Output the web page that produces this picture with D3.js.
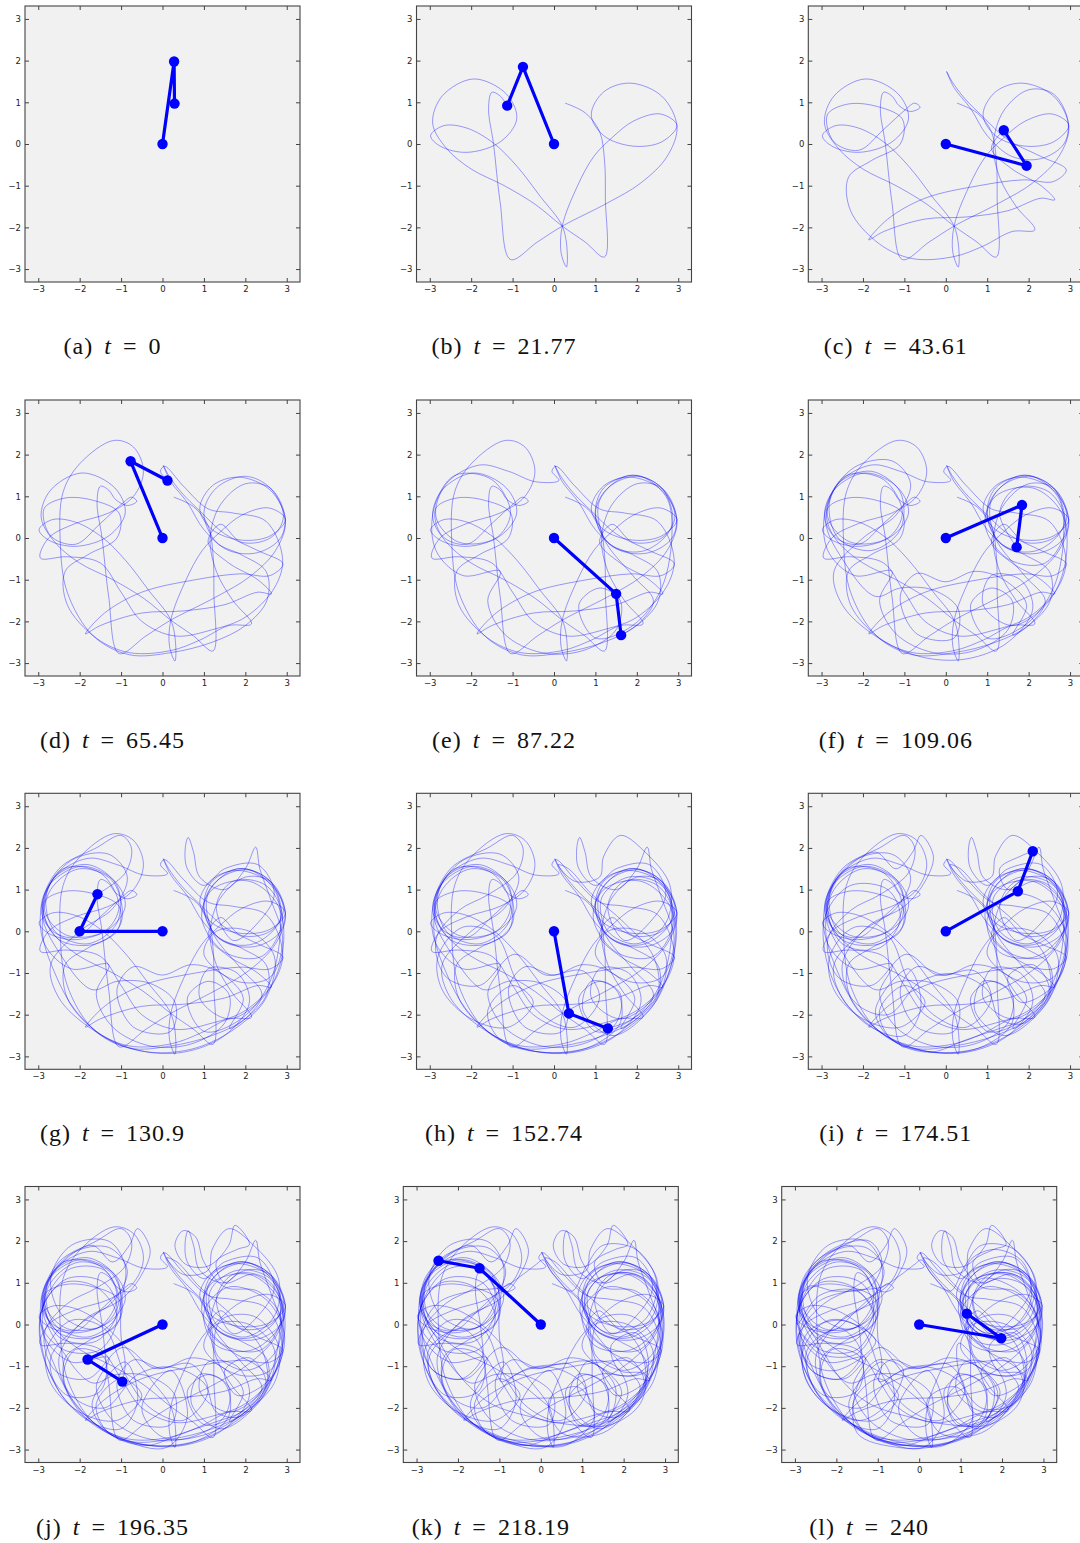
<!DOCTYPE html>
<meta charset="utf-8">
<style>
body { margin: 0; background: #fff; }
svg { display: block; }
.axis text { font-size: 8.5px; font-family: "DejaVu Sans", sans-serif; fill: #222; }
.axis line { stroke: #444; }
.caption { font-family: "Liberation Serif", serif; font-size: 24px; fill: #111; letter-spacing: 1px; word-spacing: 4px; }
</style>
<body>
<script src="https://d3js.org/d3.v7.min.js"></script>
<script>

// panel captions
var panelLabels = ["a", "b", "c", "d", "e", "f", "g", "h", "i", "j", "k", "l"];
var panelTimes = ["0", "21.77", "43.61", "65.45", "87.22", "109.06", "130.9", "152.74", "174.51", "196.35", "218.19", "240"];

// pendulum bobs (pivot is at 0,0)
var bob1 = [[0.28, 1.98], [-0.75, 1.85], [1.95, -0.52], [-0.77, 1.84], [1.5, -1.34], [1.84, 0.79],
            [-2.0, 0.0], [0.36, -1.97], [1.74, 0.96], [-1.81, -0.84], [-1.48, 1.35], [1.98, -0.33]];
var bob2 = [[0.29, 0.97], [-1.13, 0.92], [1.4, 0.33], [0.12, 1.38], [1.62, -2.33], [1.71, -0.22],
            [-1.57, 0.89], [1.3, -2.33], [2.1, 1.92], [-0.97, -1.37], [-2.47, 1.53], [1.15, 0.26]];

// trace of the lower bob, the part added between one panel and the next
var seg_b = [[0.27,0.98],[0.75,0.75],[1.1,0.3],[1.22,-0.4],[1.24,-1.3],[1.22,-2.71],
  [0.75,-2.35],[0.2,-1.97],[-0.45,-1.45],[-1.2,-1.0],[-2.0,-0.6],[-2.6,-0.1],[-2.93,0.5],[-2.7,1.15],
  [-1.94,1.56],[-1.15,1.2],[-0.9,0.6],[-1.3,0.05],[-2.1,-0.2],[-2.75,-0.05],[-2.98,0.2],[-2.66,0.44],
  [-2.1,0.38],[-1.46,0.02],[-0.89,-0.54],[-0.33,-1.26],[0.2,-1.97],[0.32,-2.6],[0.3,-2.95],[0.17,-2.6],
  [0.2,-1.97],[0.56,-1.02],[0.96,-0.3],[1.4,0.15],[1.92,0.55],[2.57,0.72],[2.97,0.45],[2.6,0.05],
  [1.9,-0.05],[1.2,0.2],[0.9,0.7],[1.2,1.25],[1.84,1.46],[2.6,1.15],[2.97,0.42],[2.73,-0.3],[2.09,-0.94],
  [1.28,-1.42],[0.2,-1.97],[-0.4,-2.35],[-1.05,-2.77],[-1.3,-1.4],[-1.46,0.0],[-1.58,0.85],[-1.5,1.24],
  [-1.3,1.15],[-1.13,0.92]];
var seg_c = [[-0.85,0.78],[-0.62,0.88],[-0.75,0.98],[-0.98,0.82],[-1.5,0.35],[-2.1,-0.15],[-2.7,0.05],
  [-2.86,0.7],[-2.4,0.95],[-1.74,0.92],[-1.05,0.6],[-1.1,0.0],[-1.8,-0.4],[-2.35,-0.8],[-2.3,-1.6],
  [-1.6,-2.4],[-0.8,-2.75],[0.2,-2.7],[0.9,-2.45],[1.6,-2.1],[2.15,-2.06],[1.7,-1.5],[1.3,-0.8],
  [1.15,0.0],[1.4,0.8],[2.0,1.3],[2.6,1.2],[2.95,0.55],[2.85,0.0],[2.3,-0.35],[1.6,-0.3],[1.0,0.2],
  [0.6,0.85],[0.2,1.35],[0.02,1.74],[0.15,1.5],[0.45,1.1],[0.9,0.65],[1.5,0.1],[2.3,-0.3],[2.91,-0.62],
  [2.6,-0.9],[1.87,-0.86],[0.8,-1.0],[-0.5,-1.3],[-1.4,-1.8],[-1.86,-2.3],[-1.5,-2.1],[-0.5,-1.8],
  [0.5,-1.75],[1.5,-1.6],[2.3,-1.3],[2.63,-1.34],[2.3,-1.0],[1.6,-0.6],[1.1,-0.1],[1.4,0.33]];
var seg_d = [[1.9,-0.1],[2.6,0.0],[2.92,0.5],[2.6,1.2],[2.0,1.48],[1.3,1.2],[1.0,0.6],[1.3,-0.1],
  [1.9,-0.4],[2.5,-0.8],[2.52,-1.5],[2.0,-2.1],[1.2,-2.5],[0.2,-2.75],[-0.8,-2.8],[-1.67,-2.35],
  [-2.3,-1.3],[-2.47,-0.06],[-2.4,1.1],[-2.0,1.78],[-1.18,2.34],[-0.7,2.18],[-0.46,1.6],[-0.7,1.0],
  [-1.3,0.6],[-2.1,0.35],[-2.75,0.0],[-2.95,-0.48],[-2.3,-0.45],[-1.5,-0.6],[-1.0,-1.3],[-0.5,-2.0],
  [0.3,-2.35],[1.2,-2.2],[2.0,-1.9],[2.7,-1.2],[2.9,-0.5],[2.5,0.4],[1.7,0.6],[1.1,0.7],[0.5,1.25],
  [0.05,1.72],[-0.05,1.6],[0.12,1.38]];
var seg_e = [[-0.45,1.35],[-1.1,1.6],[-1.8,1.75],[-2.6,1.3],[-2.85,0.5],[-2.3,-0.1],[-1.4,0.0],
  [-1.05,0.6],[-1.5,1.4],[-2.4,1.5],[-2.9,0.7],[-2.85,-0.3],[-2.2,-0.9],[-1.3,-0.8],[-1.6,-1.5],
  [-1.2,-2.3],[-0.3,-2.75],[0.7,-2.7],[1.5,-2.2],[1.6,-1.5],[1.1,-1.2],[0.6,-1.6],[1.0,-2.4],[1.9,-2.1],
  [2.6,-1.2],[2.85,0.2],[2.7,1.0],[2.0,1.5],[1.2,1.2],[1.0,0.5],[1.4,-0.2],[2.2,-0.3],[2.85,0.3],
  [2.6,1.2],[1.8,1.5],[1.1,0.9],[1.2,0.0],[1.9,-0.9],[2.4,-1.5],[2.1,-2.0],[1.62,-2.33]];
var seg_f = [[1.95,-1.6],[1.4,-1.0],[0.7,-0.8],[0.0,-1.05],[-0.7,-0.85],[-1.1,-1.4],[-0.7,-2.3],
  [0.2,-2.4],[0.3,-1.7],[-0.3,-1.25],[-1.1,-1.2],[-1.7,-1.4],[-2.5,-0.5],[-2.9,0.4],[-2.6,1.3],
  [-1.8,1.6],[-1.1,1.1],[-1.1,0.2],[-1.8,-0.3],[-2.6,0.0],[-2.8,0.9],[-2.2,1.7],[-1.3,1.85],[-0.85,1.3],
  [-1.2,0.55],[-2.0,0.0],[-2.7,-0.8],[-2.5,-1.6],[-1.7,-2.35],[-0.6,-2.85],[0.5,-2.9],[1.5,-2.5],
  [2.1,-1.7],[1.8,-1.0],[1.1,-0.9],[0.9,-1.6],[1.6,-2.1],[2.5,-1.5],[2.9,-0.5],[2.8,0.6],[2.1,1.2],
  [1.2,1.0],[0.95,0.3],[1.5,-0.5],[2.4,-0.6],[2.9,0.3],[2.5,1.1],[1.7,1.2],[1.3,0.6],[1.71,-0.22]];
var seg_g = [[2.3,0.2],[2.7,0.9],[2.3,1.6],[1.5,1.5],[1.0,1.1],[0.6,1.5],[0.55,2.0],[0.62,2.25],
  [0.75,1.9],[0.9,1.3],[1.5,1.0],[2.0,1.5],[2.25,2.02],[2.35,1.5],[2.6,0.8],[2.9,-0.2],[2.6,-1.1],
  [1.8,-1.2],[1.0,-0.55],[1.3,0.0],[2.1,0.0],[2.7,-0.6],[2.5,-1.6],[1.8,-2.3],[0.8,-2.8],[-0.3,-2.9],
  [-1.3,-2.6],[-2.1,-1.9],[-2.6,-1.0],[-2.9,0.0],[-2.7,1.0],[-2.0,1.5],[-1.2,1.2],[-1.0,0.2],
  [-1.6,-0.3],[-2.5,-0.2],[-2.9,0.6],[-2.5,1.5],[-1.6,2.0],[-1.0,2.3],[-0.75,2.0],[-0.9,1.4],[-1.57,0.89]];
var seg_h = [[-2.3,0.5],[-2.85,-0.2],[-2.6,-1.1],[-1.8,-1.3],[-0.95,-0.55],[-0.2,-1.05],[0.7,-0.95],
  [1.1,-1.6],[0.5,-2.3],[-0.3,-2.0],[-0.9,-1.2],[-1.4,-0.1],[-2.2,0.1],[-2.8,-0.6],[-2.7,-1.4],
  [-2.0,-2.1],[-1.1,-2.3],[-0.5,-1.7],[-1.0,-1.3],[-1.6,-1.9],[-1.3,-2.6],[-0.3,-2.9],[0.8,-2.8],
  [1.6,-2.2],[1.5,-1.4],[0.9,-1.2],[0.7,-1.9],[1.4,-2.5],[2.3,-1.9],[2.8,-0.9],[2.95,0.2],[2.6,1.1],
  [1.8,1.3],[1.15,0.8],[1.3,0.0],[2.0,-0.3],[2.7,0.2],[2.8,1.1],[2.2,1.9],[1.6,2.3],[1.2,1.8],[1.1,1.3],
  [0.5,1.2],[0.1,1.6],[0.35,1.5],[0.9,0.9],[1.7,0.2],[2.4,-0.6],[2.5,-1.5],[1.9,-2.1],[1.3,-2.33]];
var seg_i = [[0.5,-2.6],[-0.4,-2.9],[-1.3,-2.6],[-1.7,-1.9],[-0.9,-0.9],[-0.6,-1.8],[-1.0,-2.5],
  [-1.8,-2.3],[-2.5,-1.6],[-2.9,-0.6],[-2.9,0.4],[-2.3,1.1],[-1.4,1.0],[-1.1,0.3],[-1.6,-0.4],
  [-2.5,-0.3],[-2.85,0.6],[-2.5,1.4],[-1.7,1.9],[-1.2,1.5],[-0.8,1.9],[-0.6,2.3],[-0.3,1.8],[-0.5,1.2],
  [-1.0,0.6],[-1.9,0.1],[-2.5,-0.8],[-2.2,-1.7],[-1.4,-2.0],[-0.6,-1.2],[0.2,-1.02],[1.0,-1.4],
  [1.3,-2.1],[1.9,-2.2],[2.5,-1.4],[2.1,-0.8],[1.5,-1.1],[1.8,-1.7],[2.6,-1.3],[2.95,-0.3],[2.5,0.6],
  [1.6,0.9],[1.0,0.3],[1.3,-0.5],[2.2,-0.6],[2.9,0.1],[2.8,0.7],[2.2,1.2],[1.5,1.0],[1.3,1.5],
  [1.8,1.8],[2.1,1.92]];
var seg_j = [[1.75,2.38],[1.6,1.9],[1.1,1.4],[0.55,1.45],[0.3,1.9],[0.5,2.25],[0.8,2.1],[1.0,1.5],
  [1.5,0.9],[2.3,0.8],[2.85,0.2],[2.7,-0.7],[2.0,-1.1],[1.3,-0.7],[1.4,0.1],[2.2,0.2],[2.8,-0.5],
  [2.7,-1.4],[2.0,-2.1],[1.0,-2.65],[0.0,-2.7],[-0.5,-2.0],[0.2,-1.1],[0.6,-2.2],[0.1,-2.95],
  [-1.0,-2.75],[-1.9,-2.2],[-2.4,-1.3],[-2.1,-0.6],[-1.4,-0.8],[-1.5,-1.6],[-2.3,-1.7],[-2.9,-0.7],
  [-2.9,0.4],[-2.4,1.0],[-1.6,0.9],[-1.1,0.2],[-1.5,-0.6],[-2.4,-0.6],[-2.95,0.1],[-2.3,1.3],
  [-1.4,1.3],[-1.1,0.6],[-1.6,-0.1],[-2.4,0.2],[-2.7,1.1],[-2.2,1.9],[-1.3,2.0],[-0.9,1.4],[-1.0,0.45],
  [-1.0,-0.3],[-0.9,-0.95],[-0.97,-1.37]];
var seg_k = [[-0.3,-1.05],[0.5,-0.95],[1.2,-0.9],[1.8,-1.5],[1.6,-2.3],[0.9,-2.4],[0.7,-1.7],[1.4,-1.2],
  [2.3,-1.2],[2.9,-0.5],[2.9,0.5],[2.3,1.2],[1.4,1.1],[1.05,0.4],[1.6,-0.2],[2.5,0.1],[2.8,1.0],
  [2.3,1.8],[1.5,1.9],[1.1,1.4],[0.75,0.8],[0.3,1.2],[0.05,1.55],[-0.1,1.45],[-0.5,1.15],[-0.9,0.9],
  [-1.7,0.8],[-2.5,0.5],[-2.9,-0.3],[-2.6,-1.1],[-1.9,-1.3],[-1.4,-0.7],[-1.9,-0.1],[-2.7,-0.6],
  [-2.6,-1.4],[-2.0,-2.1],[-1.2,-2.6],[-0.3,-2.85],[0.6,-2.9],[1.3,-2.2],[0.9,-1.5],[0.2,-1.8],
  [0.5,-2.6],[1.5,-2.6],[2.3,-1.8],[2.6,-0.9],[2.3,-0.2],[1.7,-0.5],[1.9,-1.1],[2.5,-1.2],[2.4,-1.9],
  [1.7,-2.4],[0.7,-2.4],[-0.3,-2.2],[-1.2,-1.9],[-1.9,-1.3],[-2.4,-0.5],[-2.9,0.4],[-2.8,1.1],[-2.47,1.53]];
var seg_l = [[-1.9,1.9],[-1.2,2.0],[-0.9,1.5],[-1.2,0.9],[-2.0,0.8],[-2.7,0.9],[-2.95,0.0],[-2.4,0.7],
  [-1.5,0.8],[-1.05,0.15],[-1.5,-0.7],[-2.4,-0.7],[-2.9,-0.2],[-2.7,-0.9],[-2.0,-1.1],[-1.05,-0.4],
  [-1.9,0.1],[-2.7,-0.2],[-2.8,-1.1],[-2.3,-1.9],[-1.4,-2.3],[-0.6,-1.7],[-0.4,-1.05],[-1.0,-0.85],
  [-1.5,-1.5],[-1.5,-2.6],[-0.5,-2.95],[0.5,-2.9],[1.4,-2.5],[1.9,-1.7],[1.5,-1.0],[0.95,-0.45],
  [1.0,-1.3],[1.5,-2.0],[2.3,-1.9],[2.8,-1.0],[2.9,0.0],[2.4,0.8],[1.5,1.1],[1.0,0.4],[1.4,-0.4],
  [2.3,-0.4],[2.85,0.3],[2.6,0.9],[1.9,1.1],[1.3,0.7],[1.5,0.0],[2.2,-0.1],[2.7,0.6],[2.5,1.5],
  [1.8,1.8],[1.2,1.5],[1.2,0.9],[1.15,0.26]];

// segment added at each panel (panel a has no trace yet)
var traceSegments = [[], seg_b, seg_c, seg_d, seg_e, seg_f, seg_g, seg_h, seg_i, seg_j, seg_k, seg_l];

var tickValues = [-3, -2, -1, 0, 1, 2, 3];

// layout of the 4x3 grid
var rowTop = [6, 400, 793.3, 1186.5];
var colLeft = [[25, 416.5, 808.3], [25, 416.5, 808.3], [25, 416.5, 808.3], [25, 403.3, 781.7]];
var W = 275, H = 276;

var x = d3.scaleLinear().domain([-3.32, 3.32]).range([0, W]);
var y = d3.scaleLinear().domain([-3.31, 3.31]).range([H, 0]);
var fmt = d3.format("d");

var svg = d3.select("body").append("svg")
    .attr("width", 1080)
    .attr("height", 1543);

var traceLine = d3.line()
    .x(function(d) { return x(d[0]); })
    .y(function(d) { return y(d[1]); })
    .curve(d3.curveCatmullRom.alpha(0.5));

panelLabels.forEach(function(lab, i) {
  var r = Math.floor(i / 3), c = i % 3;
  var left = colLeft[r][c], top = rowTop[r];

  var g = svg.append("g")
      .attr("transform", "translate(" + left + "," + top + ")");

  g.append("clipPath").attr("id", "clip" + i)
    .append("rect").attr("width", W).attr("height", H);

  g.append("rect")
      .attr("width", W)
      .attr("height", H)
      .attr("fill", "#f1f1f1");

  // cumulative trace up to this panel
  var pts = [].concat.apply([], traceSegments.slice(0, i + 1));
  if (pts.length > 1) {
    g.append("path")
        .attr("clip-path", "url(#clip" + i + ")")
        .attr("d", traceLine(pts))
        .attr("fill", "none")
        .attr("stroke", "#0000ff")
        .attr("stroke-opacity", 0.45)
        .attr("stroke-width", 0.85);
  }

  // ticks on all four sides, pointing inward
  g.append("g").attr("class", "axis")
      .attr("transform", "translate(0," + H + ")")
      .call(d3.axisBottom(x).tickValues(tickValues).tickFormat(fmt).tickSizeInner(-4).tickSizeOuter(0).tickPadding(4));
  g.append("g").attr("class", "axis")
      .call(d3.axisTop(x).tickValues(tickValues).tickSizeInner(-4).tickSizeOuter(0).tickFormat(""));
  g.append("g").attr("class", "axis")
      .call(d3.axisLeft(y).tickValues(tickValues).tickFormat(fmt).tickSizeInner(-4).tickSizeOuter(0).tickPadding(4));
  g.append("g").attr("class", "axis")
      .attr("transform", "translate(" + W + ",0)")
      .call(d3.axisRight(y).tickValues(tickValues).tickSizeInner(-4).tickSizeOuter(0).tickFormat(""));
  g.selectAll(".axis .domain").remove();

  // the pendulum
  var p1 = bob1[i], p2 = bob2[i];
  g.append("path")
      .attr("d", "M" + x(0) + "," + y(0) + "L" + x(p1[0]) + "," + y(p1[1]) + "L" + x(p2[0]) + "," + y(p2[1]))
      .attr("fill", "none")
      .attr("stroke", "#0000ff")
      .attr("stroke-width", 3.2)
      .attr("stroke-linejoin", "round");
  g.selectAll(".bob")
    .data([[0, 0], p1, p2])
    .enter().append("circle")
      .attr("class", "bob")
      .attr("cx", function(d) { return x(d[0]); })
      .attr("cy", function(d) { return y(d[1]); })
      .attr("r", 5.2)
      .attr("fill", "#0000ff");

  // frame
  g.append("rect")
      .attr("width", W)
      .attr("height", H)
      .attr("fill", "none")
      .attr("stroke", "#444")
      .attr("stroke-width", 1.1);

  // caption under the panel
  var cap = svg.append("text")
      .attr("class", "caption")
      .attr("x", left + W / 2 - 50)
      .attr("y", top + 348)
      .attr("text-anchor", "middle");
  cap.append("tspan").text("(" + lab + ") ");
  cap.append("tspan").attr("font-style", "italic").text("t");
  cap.append("tspan").text(" = " + panelTimes[i]);
});

</script>
</body>
